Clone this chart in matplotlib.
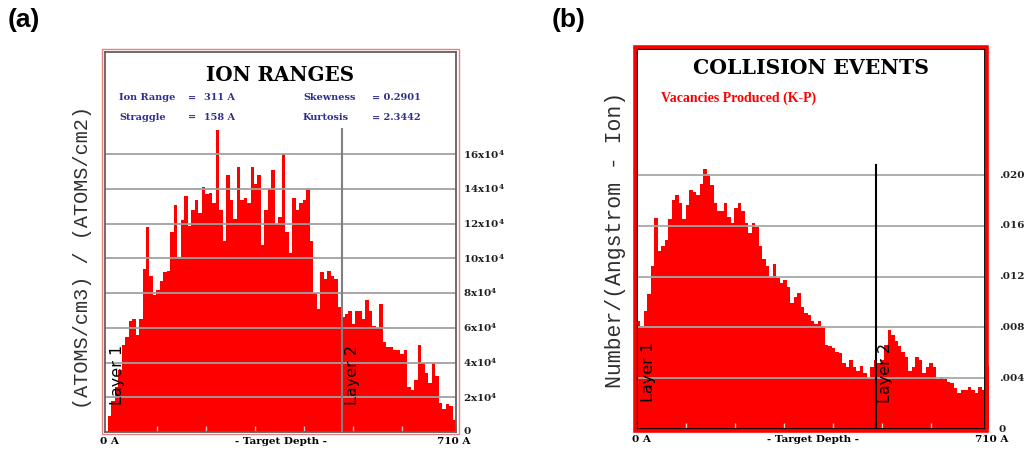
import numpy as np
import matplotlib
matplotlib.use("Agg")
import matplotlib.pyplot as plt
from matplotlib.patches import Rectangle

plt.rcParams['mathtext.fontset'] = 'dejavuserif'

# --- data ---
depth_max = 710          # Angstrom
n_bins = 100
bin_w = depth_max / n_bins

# ion ranges, units of 10^4 (atoms/cm3)/(atoms/cm2)
ion_counts = [0.9, 1.8, 2.6, 3.6, 5.0, 5.5, 6.4, 6.5, 5.6, 6.5,
              9.4, 11.8, 9.0, 7.9, 8.2, 8.7, 9.2, 9.3, 11.5, 13.1,
              10.1, 12.2, 13.6, 11.9, 12.8, 13.4, 12.6, 14.1, 13.7, 13.8,
              13.2, 17.4, 12.8, 11.0, 14.8, 13.4, 12.3, 15.3, 13.4, 13.5,
              13.2, 15.3, 14.3, 14.8, 10.8, 12.8, 14.0, 15.1, 12.0, 12.4,
              16.0, 11.5, 10.3, 13.5, 12.8, 13.2, 13.4, 14.0, 11.0, 8.0,
              7.1, 9.2, 8.8, 9.3, 9.0, 8.8, 7.2, 6.6, 6.8, 7.0,
              6.2, 7.0, 7.0, 6.5, 7.6, 7.0, 6.1, 6.0, 7.4, 5.2,
              4.9, 4.9, 4.7, 4.7, 4.5, 4.7, 2.6, 2.4, 3.0, 5.0,
              4.0, 3.4, 2.8, 4.0, 3.2, 1.7, 1.3, 1.6, 1.5, 0.7]
ion_ticks = [0, 2, 4, 6, 8, 10, 12, 14, 16]
ion_stats = [("Ion Range", "=", "311 A"), ("Straggle", "=", "158 A")]
ion_shape = [("Skewness", "= 0.2901"), ("Kurtosis", "= 2.3442")]

# vacancies, Number/(Angstrom-Ion)
vacancies = [0.0085, 0.0081, 0.0093, 0.0106, 0.0128, 0.0166, 0.0140, 0.0144, 0.0149, 0.0165,
             0.0180, 0.0184, 0.0178, 0.0165, 0.0176, 0.0188, 0.0187, 0.0184, 0.0193, 0.0205,
             0.0201, 0.0192, 0.0178, 0.0172, 0.0172, 0.0178, 0.0167, 0.0162, 0.0174, 0.0178,
             0.0172, 0.0162, 0.0154, 0.0162, 0.0159, 0.0144, 0.0134, 0.0128, 0.0120, 0.0130,
             0.0119, 0.0115, 0.0117, 0.0112, 0.0099, 0.0104, 0.0107, 0.0096, 0.0091, 0.0090,
             0.0085, 0.0083, 0.0085, 0.0081, 0.0066, 0.0065, 0.0064, 0.0061, 0.0060, 0.0052,
             0.0049, 0.0054, 0.0049, 0.0046, 0.0050, 0.0044, 0.0040, 0.0049, 0.0054, 0.0052,
             0.0054, 0.0066, 0.0078, 0.0074, 0.0069, 0.0065, 0.0061, 0.0057, 0.0046, 0.0049,
             0.0057, 0.0054, 0.0044, 0.0049, 0.0052, 0.0049, 0.0039, 0.0041, 0.0039, 0.0037,
             0.0036, 0.0032, 0.0028, 0.0031, 0.0031, 0.0033, 0.0031, 0.0028, 0.0033, 0.0031]
vac_last = 0.0050        # bin just past 710 A
vac_ticks = [0, 0.004, 0.008, 0.012, 0.016, 0.020]
vac_labels = ["0", ".004", ".008", ".012", ".016", ".020"]

layer2_a = 477
layer2_b = 487

W, H = 1024, 455
def fx(x):
    return x / W
def fy(y):
    return 1 - y / H

fig = plt.figure(figsize=(10.24, 4.55), dpi=100)

serif = 'DejaVu Serif'
navy = '#2e2e8c'
x = np.arange(n_bins) * bin_w

# ---------------- (a) ION RANGES ----------------
ax = fig.add_axes([fx(105), fy(432), (456 - 105) / W, (432 - 51.7) / H])
ax.bar(x, ion_counts, width=bin_w, align='edge', color='#ff0000', edgecolor='none', zorder=1)
ax.set_xlim(-5.5, depth_max)
ax.set_ylim(0, (432 - 51.7) / 17.35)
for v in ion_ticks[1:]:
    ax.axhline(v, color='#a0a0a0', lw=1.3, zorder=2)
ax.plot([layer2_a, layer2_a], [0, (432 - 129) / 17.35], color='#808080', lw=1.5, zorder=3)
ax.set_xticks(np.arange(100, 700, 100))
ax.set_xticklabels([])
ax.set_yticks([])
ax.tick_params(axis='x', direction='in', length=4, color='#c0c0c0', width=1)
for s in ax.spines.values():
    s.set_color('#606060')
    s.set_linewidth(1.3)
for v in ion_ticks:
    lab = "0" if v == 0 else f"{v}x10$^{{\\mathbf{{4}}}}$"
    ax.text(1.02, v, lab, transform=ax.get_yaxis_transform(), ha='left', va='center',
            fontsize=7.5, fontweight='bold', family=serif, color='#202020')
ax.text(0.5, 0.94, "ION RANGES", transform=ax.transAxes, ha='center', va='center',
        fontsize=14.3, fontweight='bold', family=serif)
ax.text(0.037, 0.15, "Layer 1", transform=ax.transAxes, rotation=90, ha='center', va='center',
        fontsize=11.5, family='DejaVu Sans')
ax.text(layer2_a + 22, 3.3, "Layer 2", rotation=90, ha='center', va='center',
        fontsize=11.5, family='DejaVu Sans')

fig.patches.append(Rectangle((fx(102.3), fy(434)), (459.3 - 102.3) / W, (434 - 49.3) / H,
                             transform=fig.transFigure, fill=False, ec='#e88080', lw=1.0))

for i, (name, eq, val) in enumerate(ion_stats):
    yy = fy(98 + 19 * i)
    fig.text(fx(119), yy, name, color=navy, fontsize=7, fontweight='bold', family=serif, va='center')
    fig.text(fx(188), yy, eq, color=navy, fontsize=7, fontweight='bold', family=serif, va='center')
    fig.text(fx(204), yy, val, color=navy, fontsize=7, fontweight='bold', family=serif, va='center')
for i, (name, val) in enumerate(ion_shape):
    yy = fy(98 + 19 * i)
    fig.text(fx(303), yy, name, color=navy, fontsize=7, fontweight='bold', family=serif, va='center')
    fig.text(fx(372), yy, val, color=navy, fontsize=7, fontweight='bold', family=serif, va='center')

fig.text(fx(100), fy(441), "0 A", fontsize=7.5, fontweight='bold', family=serif, va='center')
fig.text(fx(281), fy(441), "- Target Depth -", fontsize=7.5, fontweight='bold', family=serif,
         ha='center', va='center')
fig.text(fx(437), fy(441), "710 A", fontsize=7.5, fontweight='bold', family=serif, va='center')
fig.text(fx(83), fy(257), "(ATOMS/cm3) / (ATOMS/cm2)", rotation=90, ha='center', va='center',
         fontsize=14.5, family='Liberation Mono', color='#303030')
fig.text(fx(8), fy(20), "(a)", fontsize=19, fontweight='bold', family='Liberation Sans', va='center')

# ---------------- (b) COLLISION EVENTS ----------------
bx = fig.add_axes([fx(637), fy(429), (985 - 637) / W, (429 - 49) / H])
bx.bar(x, vacancies, width=bin_w, align='edge', color='#ff0000', edgecolor='none', zorder=1)
bx.bar([depth_max], [vac_last], width=bin_w * 1.05, align='edge', color='#ff0000',
       edgecolor='none', zorder=1, clip_on=False)
bx.set_xlim(0, depth_max)
bx.set_ylim(0, (429 - 49) / 12.7 * 0.001)
for v in vac_ticks[1:]:
    bx.axhline(v, color='#a8a8a8', lw=1.3, zorder=2)
bx.plot([layer2_b, layer2_b], [0, (429 - 165) / 12.7 * 0.001], color='black', lw=1.5, zorder=3)
bx.set_xticks(np.arange(100, 700, 100))
bx.set_xticklabels([])
bx.set_yticks([])
bx.tick_params(axis='x', direction='in', length=4, color='#d0d0d0', width=1)
for s in bx.spines.values():
    s.set_color('black')
    s.set_linewidth(1.3)
    s.set_zorder(4)
for v, lab in zip(vac_ticks, vac_labels):
    bx.text(1.04, v, lab, transform=bx.get_yaxis_transform(), ha='left', va='center',
            fontsize=7.5, fontweight='bold', family=serif, color='#202020')
bx.text(0.5, 0.95, "COLLISION EVENTS", transform=bx.transAxes, ha='center', va='center',
        fontsize=14.7, fontweight='bold', family=serif)
bx.text(0.07, 0.87, "Vacancies Produced (K-P)", transform=bx.transAxes, ha='left', va='center',
        fontsize=10, fontweight='bold', family='Liberation Serif', color='#ff0000')
bx.text(0.034, 0.15, "Layer 1", transform=bx.transAxes, rotation=90, ha='center', va='center',
        fontsize=11.5, family='DejaVu Sans')
bx.text(layer2_b + 20, 0.0044, "Layer 2", rotation=90, ha='center', va='center',
        fontsize=11.5, family='DejaVu Sans')

fig.patches.append(Rectangle((fx(634.8), fy(431.2)), (987.2 - 634.8) / W, (431.2 - 46.8) / H,
                             transform=fig.transFigure, fill=False, ec='#ff0000', lw=2.6))

fig.text(fx(632), fy(440), "0 A", fontsize=7.5, fontweight='bold', family=serif, va='center')
fig.text(fx(813), fy(440), "- Target Depth -", fontsize=7.5, fontweight='bold', family=serif,
         ha='center', va='center')
fig.text(fx(975), fy(440), "710 A", fontsize=7.5, fontweight='bold', family=serif, va='center')
fig.text(fx(615), fy(240), "Number/(Angstrom - Ion)", rotation=90, ha='center', va='center',
         fontsize=15.5, family='Liberation Mono', color='#303030')
fig.text(fx(552), fy(20), "(b)", fontsize=19, fontweight='bold', family='Liberation Sans', va='center')

fig.savefig("out.png", dpi=100)
